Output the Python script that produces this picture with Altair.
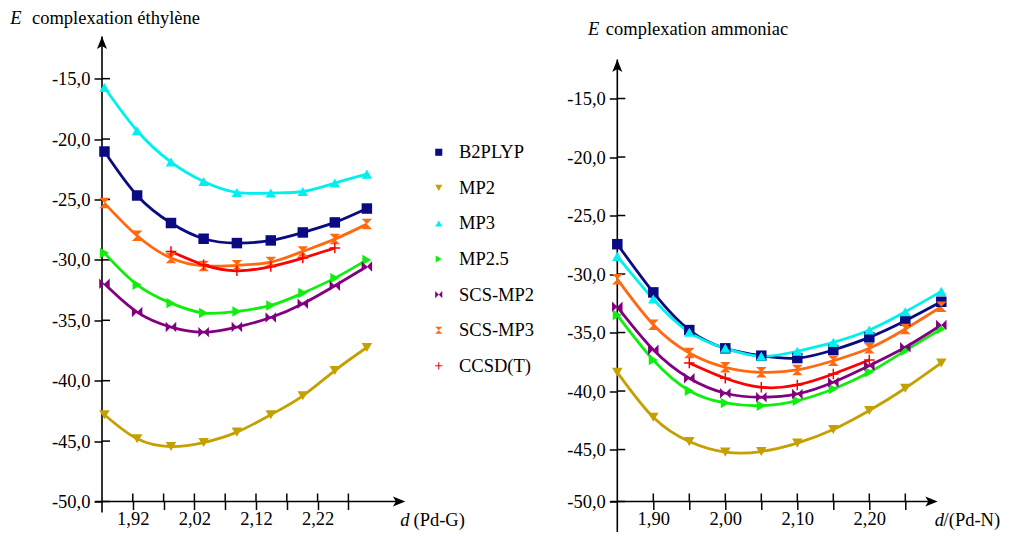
import altair as alt
import pandas as pd

FONT = "Liberation Serif"
FS = 18.5

series = ["B2PLYP", "MP2", "MP3", "MP2.5", "SCS-MP2", "SCS-MP3", "CCSD(T)"]
colors = ["#0a0a82", "#c4a000", "#00f0f0", "#10ee10", "#800080", "#ff6a10", "#ff0000"]
BOWTIE_H = "M-1,-1L1,1L1,-1L-1,1Z"
BOWTIE_V = "M-1,-1L1,-1L-1,1L1,1Z"
PLUS = "M-0.14,-1H0.14V-0.14H1V0.14H0.14V1H-0.14V0.14H-1V-0.14H-0.14Z"
shapes = ["square", "triangle-down", "triangle-up", "triangle-right", BOWTIE_H, BOWTIE_V, PLUS]

# ---- ethylene panel (left) ----
x_eth = [1.874, 1.927, 1.982, 2.035, 2.089, 2.144, 2.196, 2.248, 2.300]
eth_B2PLYP = [-21.03, -24.67, -26.95, -28.25, -28.61, -28.39, -27.73, -26.90, -25.75]
eth_MP2 = [-42.82, -44.81, -45.45, -45.12, -44.26, -42.82, -41.25, -39.16, -37.25]
eth_MP3 = [-15.73, -19.31, -21.90, -23.51, -24.42, -24.47, -24.34, -23.64, -22.90]
eth_MP25 = [-29.44, -32.06, -33.58, -34.40, -34.27, -33.77, -32.75, -31.51, -30.00]
eth_SCSMP2 = [-31.98, -34.32, -35.56, -35.98, -35.56, -34.77, -33.63, -32.14, -30.55]
eth_SCSMP3 = [-25.30, -28.00, -29.85, -30.50, -30.45, -30.18, -29.30, -28.28, -27.04]
x_eth_ccsd = [1.982, 2.035, 2.089, 2.144, 2.196, 2.248]
eth_CCSDT = [-29.30, -30.41, -30.90, -30.55, -29.85, -29.02]

# ---- ammonia panel (right) ----
x_nh3 = [1.85, 1.90, 1.95, 2.00, 2.05, 2.10, 2.15, 2.20, 2.25, 2.30]
nh3_B2PLYP = [-27.45, -31.57, -34.79, -36.35, -36.98, -37.18, -36.49, -35.41, -33.99, -32.37]
nh3_MP2 = [-38.40, -42.24, -44.32, -45.22, -45.17, -44.45, -43.29, -41.67, -39.76, -37.60]
nh3_MP3 = [-28.49, -32.14, -34.98, -36.35, -37.03, -36.60, -35.84, -34.79, -33.23, -31.48]
nh3_MP25 = [-33.51, -37.35, -39.97, -41.02, -41.25, -40.82, -39.82, -38.40, -36.55, -34.70]
nh3_SCSMP2 = [-32.80, -36.47, -38.91, -40.19, -40.53, -40.25, -39.25, -37.83, -36.26, -34.36]
nh3_SCSMP3 = [-30.44, -34.33, -36.75, -37.97, -38.40, -38.20, -37.41, -36.35, -34.70, -32.80]
x_nh3_ccsd = [1.95, 2.00, 2.05, 2.10, 2.15, 2.20]
nh3_CCSDT = [-37.60, -38.91, -39.68, -39.48, -38.54, -37.35]

# ---- tick values / labels ----
eth_xticks = [1.92, 1.97, 2.02, 2.07, 2.12, 2.17, 2.22, 2.27]
eth_xlabels = ["1.92", "2.02", "2.12", "2.22"]
eth_yticks = [-50, -45, -40, -35, -30, -25, -20, -15]
nh3_xticks = [1.90, 1.95, 2.00, 2.05, 2.10, 2.15, 2.20, 2.25]
nh3_xlabels = ["1.90", "2.00", "2.10", "2.20"]
nh3_yticks = [-49.44, -45, -40, -35, -30, -25, -20, -15]


def long_df(pairs):
    rows = []
    for name, xs, ys in pairs:
        for xv, yv in zip(xs, ys):
            rows.append({"series": name, "x": xv, "y": yv})
    return pd.DataFrame(rows)


df_eth = long_df([
    ("B2PLYP", x_eth, eth_B2PLYP), ("MP2", x_eth, eth_MP2), ("MP3", x_eth, eth_MP3),
    ("MP2.5", x_eth, eth_MP25), ("SCS-MP2", x_eth, eth_SCSMP2), ("SCS-MP3", x_eth, eth_SCSMP3),
    ("CCSD(T)", x_eth_ccsd, eth_CCSDT)])
df_nh3 = long_df([
    ("B2PLYP", x_nh3, nh3_B2PLYP), ("MP2", x_nh3, nh3_MP2), ("MP3", x_nh3, nh3_MP3),
    ("MP2.5", x_nh3, nh3_MP25), ("SCS-MP2", x_nh3, nh3_SCSMP2), ("SCS-MP3", x_nh3, nh3_SCSMP3),
    ("CCSD(T)", x_nh3_ccsd, nh3_CCSDT)])

H = 465
ONE = pd.DataFrame({"a": [0]})
AXW = 1.6
ARROW = "M0,-1L0.75,0.85L0,0.4L-0.75,0.85Z"


def panel(df, xdom, ydom, W, xticks, xlabels, yticks, title_words, title_pos,
          xtitle_words, xtitle_pos, yaxis_bottom, show_legend):
    ylabel_expr = ("datum.value < -49 ? '-50,0' : '-' + replace(format(abs(datum.value), '.1f'), '.', ',')")
    xlabel_expr = ("indexof(%s, format(datum.value, '.2f')) >= 0 ? replace(format(datum.value, '.2f'), '.', ',') : ''"
                   % str(xlabels))
    xaxis = alt.Axis(values=xticks, labelExpr=xlabel_expr, title=None, domain=False, grid=False,
                     tickSize=8, tickWidth=1.5, tickColor="black", labelFont=FONT, labelFontSize=FS,
                     labelColor="black", labelPadding=0, labelFlush=False, labelOverlap=False,
                     labelBound=False)
    yaxis = alt.Axis(values=yticks, labelExpr=ylabel_expr, title=None, domain=False, grid=False,
                     tickSize=8, tickWidth=1.5, tickColor="black", labelFont=FONT, labelFontSize=FS,
                     labelColor="black", labelPadding=4, labelFlush=False, labelOverlap=False,
                     labelBound=False)
    xs = alt.Scale(domain=xdom, nice=False, zero=False)
    ys = alt.Scale(domain=ydom, nice=False, zero=False)
    X = alt.X("x:Q", scale=xs, axis=xaxis)
    Y = alt.Y("y:Q", scale=ys, axis=yaxis)

    if show_legend:
        leg = alt.Legend(title=None, orient="none", legendX=327.5, legendY=106.5, symbolSize=50,
                         labelFont=FONT, labelFontSize=FS, labelColor="black", rowPadding=16.6,
                         labelOffset=11, padding=0, symbolStrokeWidth=0, symbolOpacity=1)
    else:
        leg = None
    color = alt.Color("series:N", scale=alt.Scale(domain=series, range=colors), legend=leg)
    shape = alt.Shape("series:N", scale=alt.Scale(domain=series, range=shapes), legend=leg)

    lines = alt.Chart(df).mark_line(interpolate="natural", strokeWidth=2.8).encode(
        x=X, y=Y, color=color, detail="series:N")
    points = alt.Chart(df).mark_point(filled=True, size=110, opacity=1).encode(
        x=X, y=Y, color=color, shape=shape)

    yline = alt.Chart(ONE).mark_rule(color="black", strokeWidth=AXW).encode(
        x=alt.value(0), y=alt.value(yaxis_bottom[0]), y2=alt.value(yaxis_bottom[1]))
    xline = alt.Chart(ONE).mark_rule(color="black", strokeWidth=AXW).encode(
        x=alt.value(-7), x2=alt.value(W - 4), y=alt.value(H))
    up_arrow = alt.Chart(ONE).mark_point(shape=ARROW, filled=True, color="black", size=180, opacity=1).encode(
        x=alt.value(0), y=alt.value(yaxis_bottom[0] + 6.7))
    right_arrow = alt.Chart(ONE).mark_point(shape=ARROW, filled=True, color="black", size=180, opacity=1,
                                            angle=90).encode(x=alt.value(W - 6.7), y=alt.value(H))
    ytk = alt.Chart(pd.DataFrame({"y": yticks})).mark_rule(color="black", strokeWidth=1.5).encode(
        y=Y, x=alt.value(0), x2=alt.value(8))
    xtk = alt.Chart(pd.DataFrame({"x": xticks})).mark_rule(color="black", strokeWidth=1.5).encode(
        x=X, y=alt.value(H - 8), y2=alt.value(H))

    texts = []
    for (txt, italic), (px, py) in zip(title_words + xtitle_words, title_pos + xtitle_pos):
        texts.append(alt.Chart(ONE).mark_text(
            text=txt, font=FONT, fontSize=FS, fontStyle="italic" if italic else "normal",
            align="left", baseline="middle", color="black").encode(x=alt.value(px), y=alt.value(py)))

    return alt.layer(yline, xline, up_arrow, right_arrow, ytk, xtk, lines, points, *texts).properties(
        width=W, height=H)


W_L = 303.3
W_R = 320.4
left = panel(df_eth, [1.87, 2.3624], [-50, -11.51], W_L, eth_xticks, eth_xlabels, eth_yticks,
             [("E", True), ("complexation éthylène", False)], [(-91.7, -19), (-70, -19)],
             [("d", True), ("(Pd-G)", False)], [(298.3, 483.5), (311.5, 483.5)],
             (0, 476), True)
right = panel(df_nh3, [1.85, 2.295], [-49.44, -9.70], W_R, nh3_xticks, nh3_xlabels, nh3_yticks,
              [("E", True), ("complexation ammoniac", False)], [(-29.3, -8), (-11.5, -8)],
              [("d", True), ("/(Pd-N)", False)], [(317.5, 483.5), (326.3, 483.5)],
              (23, 506), False)

chart = alt.hconcat(left, right, spacing=211.3, bounds="flush").resolve_scale(
    color="independent", shape="independent").properties(
    padding={"left": 2, "top": 0.5, "right": 0, "bottom": -12}).configure_view(stroke=None)

chart.save("out.html", embed_options={"renderer": "svg", "actions": False})
